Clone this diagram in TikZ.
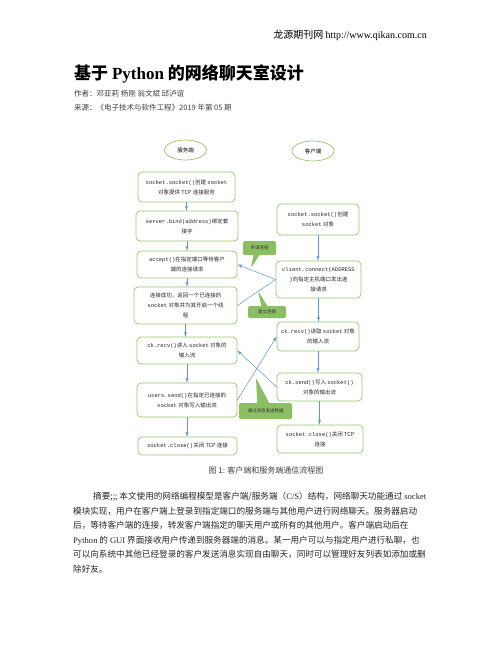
\documentclass[tikz,border=0pt]{standalone}
\usepackage{fontspec}
\setmainfont{Noto Sans CJK SC}
\newfontfamily\latin{Liberation Serif}
\newfontfamily\mono{Liberation Mono}
\newcommand\code[1]{{\mono #1}}
\newcommand\lat[1]{{\latin #1}}
\definecolor{boxline}{RGB}{150,195,105}
\definecolor{wireblue}{RGB}{95,150,205}
\definecolor{notegreen}{RGB}{140,190,100}
\usetikzlibrary{shapes.geometric,shapes.callouts}

\begin{document}
\begin{tikzpicture}[x=1pt,y=-1pt]

\useasboundingbox (0,0) rectangle (502,649);

\tikzset{
    every node/.style={font=\fontsize{5.5}{10}\selectfont, inner sep=1pt},
    wire/.style={->, >=latex, draw=wireblue, line width=.5pt},
    link/.style={draw=wireblue, line width=.5pt},
    proc/.style={draw=boxline, line width=.7pt, rounded corners=4pt, align=center, text=black!85},
    side/.style={ellipse, draw=boxline, line width=.7pt, minimum width=42pt, minimum height=20pt},
    note/.style={rectangle callout, fill=notegreen, rounded corners=1.5pt, font=\fontsize{4.5}{5}\selectfont, text=black!80, callout pointer width=6pt}
}

\node[font=\fontsize{10}{12}\selectfont, anchor=base east] (site) at (428,38) {龙源期刊网 \lat{http://www.qikan.com.cn}};
\node[font=\fontsize{17}{20}\selectfont\bfseries, anchor=base west, inner sep=0] (title) at (74,79) {基于 \lat{Python} 的网络聊天室设计};
\node[font=\fontsize{7.5}{9}\selectfont, anchor=base west, inner sep=0, text=black!75] (authors) at (74,96) {作者：邓亚莉 杨刚 翁文斌 邱泸谊};
\node[font=\fontsize{7.5}{9}\selectfont, anchor=base west, inner sep=0, text=black!75] (source) at (74,110) {来源：《电子技术与软件工程》2019 年第 05 期};

\node[side] (SERVER) at (185.5,150) {服务端};
\node[side] (CLIENT) at (313,151) {客户端};

\node[proc, minimum width=97pt, minimum height=30pt] (s1) at (186.5,187) {\code{socket.socket()}创建 \code{socket}\\对象提供 TCP 连接服务};
\node[proc, minimum width=102pt, minimum height=30pt] (s2) at (187,226) {\code{server.bind(address)}绑定套\\接字};
\node[proc, minimum width=100pt, minimum height=27pt] (s3) at (187,264.5) {\code{accept()}在指定端口等待客户\\端的连接请求};
\node[proc, minimum width=103pt, minimum height=37pt] (s4) at (185.5,305.5) {连接成功，返回一个已连接的\\\code{socket} 对象并为其开启一个线\\程};
\node[proc, minimum width=100pt, minimum height=27pt] (s5) at (187,350.5) {\code{ck.recv()}读入 \code{socket} 对象的\\输入流};
\node[proc, minimum width=100pt, minimum height=34pt] (s6) at (187,400) {\code{users.send()}在指定已连接的\\\code{socket} 对象写入输出流};
\node[proc, minimum width=99pt, minimum height=18pt] (s7) at (187.5,446) {\code{socket.close()}关闭 TCP 连接};

\node[proc, minimum width=82pt, minimum height=31pt] (c1) at (318,219.5) {\code{socket.socket()}创建\\\code{socket} 对象};
\node[proc, minimum width=85pt, minimum height=37pt] (c2) at (318.5,279.5) {\code{client.connect(ADDRESS}\\\code{)}向指定主机端口发出连\\接请求};
\node[proc, minimum width=82pt, minimum height=29pt] (c3) at (318,336.5) {\code{ck.recv()}读取 \code{socket} 对象\\的输入流};
\node[proc, minimum width=85pt, minimum height=28pt] (c4) at (319.5,387) {\code{ck.send()}写入 \code{socket()}\\对象的输出流};
\node[proc, minimum width=86pt, minimum height=28pt] (c5) at (320,439) {\code{socket.close()}关闭 TCP\\连接};

\foreach \a/\b in {s1/s2,s2/s3,s3/s4,s4/s5,s5/s6,s6/s7,c1/c2,c2/c3,c3/c4,c4/c5}
    \path[wire] (\a.south) -- (\a.south |- \b.north);

\path[wire] (c2.west) -- (s3.east);
\path[link] (s4.east) -- (c2.west);
\path[wire] (s6.east) -- (c3.west);
\path[wire] (c4.west) -- (s5.east);

\coordinate (ask tip) at (251,268);
\coordinate (link tip) at (258,291);
\coordinate (data tip) at (256,378);
\node[note, callout absolute pointer={(ask tip)}, minimum width=33pt, minimum height=14pt] (ask) at (259.5,248) {申请连接};
\node[note, callout absolute pointer={(link tip)}, minimum width=38pt, minimum height=12pt] (linked) at (267,312) {建立连接};
\node[note, callout absolute pointer={(data tip)}, callout pointer width=12pt, minimum width=53pt, minimum height=16pt] (data) at (265.5,411) {通过消息发送数据};

\node[font=\fontsize{8}{10}\selectfont, text=black!75] (caption) at (266,470) {图 1: 客户端和服务端通信流程图};

\node[font=\fontsize{8.6}{14.5}\selectfont, anchor=north west, align=left, inner sep=0, text=black!85] (abstract) at (73,492) {\hspace*{20pt}摘要;;; 本文使用的网络编程模型是客户端/服务端（\lat{C/S}）结构，网络聊天功能通过 \lat{socket}\\
模块实现，用户在客户端上登录到指定端口的服务端与其他用户进行网络聊天。服务器启动\\
后，等待客户端的连接，转发客户端指定的聊天用户或所有的其他用户。客户端启动后在\\
\lat{Python} 的 \lat{GUI} 界面接收用户传递到服务器端的消息。某一用户可以与指定用户进行私聊，也\\
可以向系统中其他已经登录的客户发送消息实现自由聊天，同时可以管理好友列表如添加或删\\
除好友。};
\end{tikzpicture}
\end{document}
